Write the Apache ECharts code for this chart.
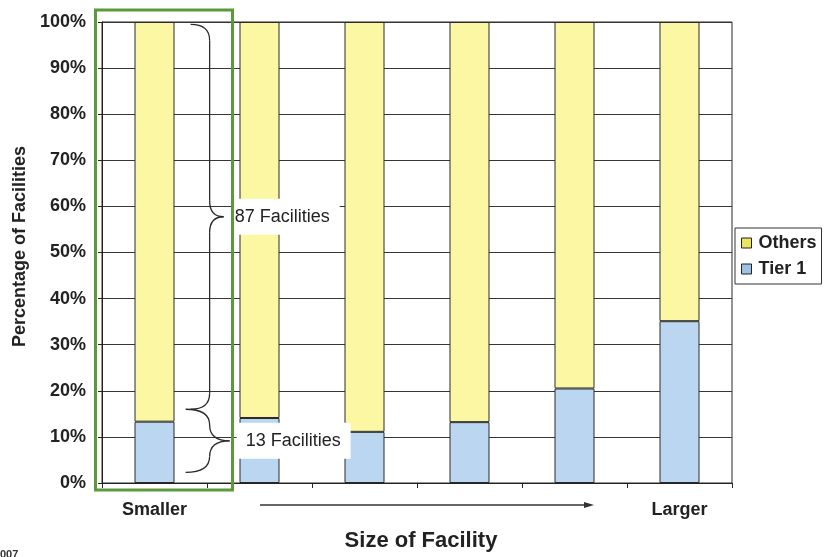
<!DOCTYPE html>
<html>
<head>
<meta charset="utf-8">
<script src="https://cdn.jsdelivr.net/npm/echarts@6/dist/echarts.min.js"></script>
<style>
html,body{margin:0;padding:0;background:#fff;}
#chart{width:825px;height:557px;}
</style>
</head>
<body>
<div id="chart"></div>
<script>
var categories = ['Smaller', '', '', '', '', 'Larger'];
var tier1 = [13.3, 14.1, 11.1, 13.2, 20.5, 35.1];
var others = [86.7, 85.9, 88.9, 86.8, 79.5, 64.9];
var yTicks = [0, 10, 20, 30, 40, 50, 60, 70, 80, 90, 100];
// brace annotations: [from %, to %, label]
var braceUpper = [16, 99.5, '87 Facilities'];
var braceLower = [2.3, 16, '13 Facilities'];

var FONT = '"Liberation Sans", Arial, sans-serif';
var chart = echarts.init(document.getElementById('chart'), null, {renderer: 'canvas'});

var option = {
  animation: false,
  backgroundColor: '#fff',
  grid: {left: 102, right: 93, top: 22, bottom: 74, show: true, borderColor: '#2a2a2a', borderWidth: 1},
  legend: {
    orient: 'vertical', left: 735, top: 228,
    data: [
      {name: 'Others', itemStyle: {color: '#ece45a', borderColor: '#222', borderWidth: 1}},
      {name: 'Tier 1', itemStyle: {color: '#9dc2e6', borderColor: '#222', borderWidth: 1}}
    ],
    itemWidth: 10, itemHeight: 10, itemGap: 8,
    padding: [6, 5, 6, 6],
    borderColor: '#333', borderWidth: 1,
    icon: 'rect',
    textStyle: {fontFamily: FONT, fontWeight: 'bold', fontSize: 18, color: '#222', padding: [0, 0, 0, 2]}
  },
  xAxis: {
    type: 'category', data: categories,
    axisLine: {lineStyle: {color: '#222', width: 1}},
    axisTick: {show: true, length: 5, interval: 0, lineStyle: {color: '#222'}},
    axisLabel: {interval: 0, margin: 18, fontFamily: FONT, fontWeight: 'bold', fontSize: 18, color: '#222'},
    name: 'Size of Facility', nameLocation: 'middle', nameGap: 47,
    nameTextStyle: {fontFamily: FONT, fontWeight: 'bold', fontSize: 22, color: '#222', padding: [0, 0, 0, 8]}
  },
  yAxis: {
    type: 'value', min: 0, max: 100, interval: 10,
    axisLine: {show: true, lineStyle: {color: '#222'}},
    axisTick: {show: true, length: 4, lineStyle: {color: '#222'}},
    axisLabel: {margin: 16, formatter: '{value}%', fontFamily: FONT, fontWeight: 'bold', fontSize: 18, color: '#222'},
    splitLine: {lineStyle: {color: '#3a3530', width: 1}},
    name: 'Percentage of Facilities', nameLocation: 'middle', nameGap: 64,
    nameTextStyle: {fontFamily: FONT, fontWeight: 'bold', fontSize: 18, color: '#222', padding: [0, 0, 0, 12]}
  },
  series: [
    {name: 'Tier 1', type: 'bar', stack: 'a', data: tier1, barWidth: 40,
     itemStyle: {color: '#bad6f0', borderColor: '#2a2a2a', borderWidth: 1}},
    {name: 'Others', type: 'bar', stack: 'a', data: others, barWidth: 40,
     itemStyle: {color: '#fbf7a2', borderColor: '#2a2a2a', borderWidth: 1}}
  ]
};
chart.setOption(option);

function py(v) { return chart.convertToPixel({yAxisIndex: 0}, v); }
function px(i) { return chart.convertToPixel({xAxisIndex: 0}, i); }

var braceStyle = {stroke: '#2a2a2a', lineWidth: 1.3, fill: null};
function brace(xEnd, xV, xTip, y1, y2) {
  var ym = (y1 + y2) / 2;
  var r = Math.min(16, (y2 - y1) / 4);
  return [
    {type: 'bezierCurve', z: 10, style: braceStyle,
     shape: {x1: xEnd, y1: y1, cpx1: xV, cpy1: y1, x2: xV, y2: y1 + r}},
    {type: 'line', z: 10, style: braceStyle,
     shape: {x1: xV, y1: y1 + r, x2: xV, y2: ym - r}},
    {type: 'bezierCurve', z: 10, style: braceStyle,
     shape: {x1: xV, y1: ym - r, cpx1: xV, cpy1: ym, x2: xTip, y2: ym}},
    {type: 'bezierCurve', z: 10, style: braceStyle,
     shape: {x1: xTip, y1: ym, cpx1: xV, cpy1: ym, x2: xV, y2: ym + r}},
    {type: 'line', z: 10, style: braceStyle,
     shape: {x1: xV, y1: ym + r, x2: xV, y2: y2 - r}},
    {type: 'bezierCurve', z: 10, style: braceStyle,
     shape: {x1: xV, y1: y2 - r, cpx1: xV, cpy1: y2, x2: xEnd, y2: y2}}
  ];
}

var c0 = px(0), c1 = px(1);
var half = (c1 - c0) / 2;
var xV = c0 + half * 1.05;
var uTop = py(braceUpper[1]), uBot = py(braceUpper[0]);
var lTop = py(braceLower[1]), lBot = py(braceLower[0]);
var yBase = py(0), yTopP = py(100);

var g = [];
g = g.concat(brace(xV - 19, xV, xV + 14, uTop, uBot));
g = g.concat(brace(xV - 24, xV, xV + 20, lTop, lBot));
g.push(
  {type: 'rect', z: 12, shape: {x: c0 - 59, y: yTopP - 12, width: 137, height: (yBase - yTopP) + 19},
   style: {fill: null, stroke: '#5a9a3a', lineWidth: 3}},
  {type: 'text', x: xV + 22, y: (uTop + uBot) / 2, z: 11,
   style: {text: braceUpper[2], font: '18px ' + FONT, fill: '#222', verticalAlign: 'middle',
           backgroundColor: '#fff', padding: [9, 10, 9, 3]}},
  {type: 'text', x: xV + 27, y: (lTop + lBot) / 2, z: 11,
   style: {text: braceLower[2], font: '18px ' + FONT, fill: '#222', verticalAlign: 'middle',
           backgroundColor: '#fff', padding: [9, 10, 9, 9]}},
  {type: 'line', z: 10, shape: {x1: 260, y1: yBase + 22, x2: 586, y2: yBase + 22},
   style: {stroke: '#333', lineWidth: 1.5}},
  {type: 'polygon', z: 10, shape: {points: [[594, yBase + 22], [584, yBase + 19], [584, yBase + 25]]},
   style: {fill: '#333'}},
  {type: 'text', x: 0, y: 549, style: {text: '007', font: 'bold 11px ' + FONT, fill: '#333'}}
);
chart.setOption({graphic: g});
</script>
</body>
</html>
